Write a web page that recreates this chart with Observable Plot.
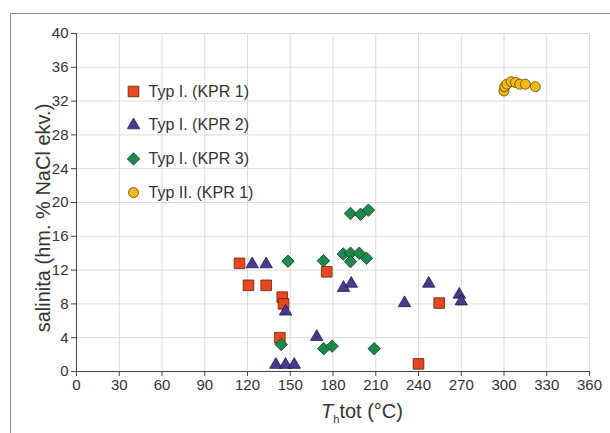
<!DOCTYPE html>
<html><head><meta charset="utf-8">
<script src="https://cdn.jsdelivr.net/npm/d3@7"></script>
<script src="https://cdn.jsdelivr.net/npm/@observablehq/plot@0.6"></script>
<style>
html,body{margin:0;padding:0;background:#fff;overflow:hidden;width:610px;height:433px}
#frame{position:absolute;left:10px;top:13px;width:700px;height:500px;border-left:1px solid #8c8c8c;border-top:1px solid #8c8c8c;}
#chart{position:absolute;left:0;top:0}
</style></head><body><div id="frame"></div><div id="chart"></div>
<script>
// Tick labels
const xTicks = [0, 30, 60, 90, 120, 150, 180, 210, 240, 270, 300, 330, 360];
const yTicks = [0, 4, 8, 12, 16, 20, 24, 28, 32, 36, 40];

// Typ I. (KPR 1) — squares
const kpr1Th  = [114.4, 120.7, 133.1, 144.4, 145.3, 142.7, 175.6, 254.5, 240.0];
const kpr1Sal = [12.8, 10.2, 10.2, 8.8, 8.0, 4.0, 11.8, 8.1, 0.9];

// Typ I. (KPR 2) — triangles
const kpr2Th  = [123.3, 133.1, 146.7, 139.9, 146.7, 152.8, 168.6, 187.4, 192.8, 230.2, 247.2, 268.6, 270.0];
const kpr2Sal = [12.7, 12.7, 7.1, 0.8, 0.8, 0.8, 4.1, 9.9, 10.4, 8.1, 10.4, 9.1, 8.3];

// Typ I. (KPR 3) — diamonds
const kpr3Th  = [148.4, 173.3, 187.2, 192.3, 192.3, 198.4, 203.5, 192.3, 199.3, 204.9, 143.6, 173.5, 179.4, 208.9];
const kpr3Sal = [13.05, 13.1, 13.9, 14.0, 13.0, 14.0, 13.4, 18.7, 18.6, 19.1, 3.2, 2.7, 3.0, 2.7];

// Typ II. (KPR 1) — circles
const typ2Th  = [300.0, 300.5, 302.0, 305.0, 308.0, 311.0, 315.0, 322.0];
const typ2Sal = [33.2, 33.7, 34.0, 34.3, 34.2, 34.0, 34.0, 33.7];

const seriesNames = ["Typ I. (KPR 1)", "Typ I. (KPR 2)", "Typ I. (KPR 3)", "Typ II. (KPR 1)"];

const toRows = (xs, ys) => xs.map((x, i) => ({x, y: ys[i]}));
const series = [
  {name: seriesNames[0], rows: toRows(kpr1Th, kpr1Sal), symbol: "square",   fill: "#e8461c", stroke: "#5a2414", r: 6.0},
  {name: seriesNames[1], rows: toRows(kpr2Th, kpr2Sal), symbol: "triangle", fill: "#4a3a8e", stroke: "#251a52", r: 4.6},
  {name: seriesNames[2], rows: toRows(kpr3Th, kpr3Sal), symbol: "diamond2", fill: "#1d8a4c", stroke: "#0c3a20", r: 5.6},
  {name: seriesNames[3], rows: toRows(typ2Th, typ2Sal), symbol: "circle",   fill: "#f5b915", stroke: "#5e4300", r: 5.0}
];

const marks = [
  Plot.gridX(xTicks, {stroke: "#dcdcdc", strokeOpacity: 1}),
  Plot.gridY(yTicks, {stroke: "#dcdcdc", strokeOpacity: 1}),
  Plot.axisX({ticks: xTicks, tickSize: 5, tickPadding: 3, stroke: "#444", fill: "#333", label: null}),
  Plot.axisY({ticks: yTicks, tickSize: 5, tickPadding: 3, stroke: "#444", fill: "#333", label: null}),
  Plot.ruleY([0], {stroke: "#444"}),
  Plot.ruleX([0], {stroke: "#444"})
];
series.forEach(s => {
  marks.push(Plot.dot(s.rows, {x: "x", y: "y", symbol: () => s.symbol, fill: s.fill, stroke: s.stroke, strokeWidth: 0.8, r: s.r}));
});
series.forEach((s, i) => {
  marks.push(Plot.dot([s.name], {frameAnchor: "top-left", dx: 57, dy: 58 + i * 33.7, symbol: () => s.symbol, fill: s.fill, stroke: s.stroke, strokeWidth: 0.8, r: s.r}));
  marks.push(Plot.text([s.name], {frameAnchor: "top-left", dx: 72, dy: 58 + i * 33.7, text: d => d, textAnchor: "start", lineAnchor: "middle", fontSize: 16, fill: "#333"}));
});

const chart = Plot.plot({
  width: 610, height: 433,
  marginLeft: 76, marginRight: 21, marginTop: 33, marginBottom: 62,
  style: {fontFamily: "'Liberation Sans', Arial, sans-serif", fontSize: "15px", color: "#333", background: "transparent"},
  x: {domain: [0, 360]},
  y: {domain: [0, 40]},
  symbol: {type: "identity"},
  marks
});

const svg = d3.select(chart);
const xl = svg.append("text")
  .attr("x", 362).attr("y", 418)
  .attr("text-anchor", "middle")
  .attr("font-size", 20).attr("fill", "#333")
  .attr("font-family", "'Liberation Sans', Arial, sans-serif");
xl.append("tspan").attr("font-style", "italic").text("T");
xl.append("tspan").attr("font-size", 11).attr("dy", 5).text("h");
xl.append("tspan").attr("dy", -5).text("tot (°C)");

svg.append("text")
  .attr("transform", "translate(43,218) rotate(-90)")
  .attr("text-anchor", "middle")
  .attr("dominant-baseline", "central")
  .attr("font-size", 20).attr("fill", "#333")
  .attr("font-family", "'Liberation Sans', Arial, sans-serif")
  .text("salinita (hm. % NaCl ekv.)");

document.getElementById("chart").appendChild(chart);
</script>
</body></html>
